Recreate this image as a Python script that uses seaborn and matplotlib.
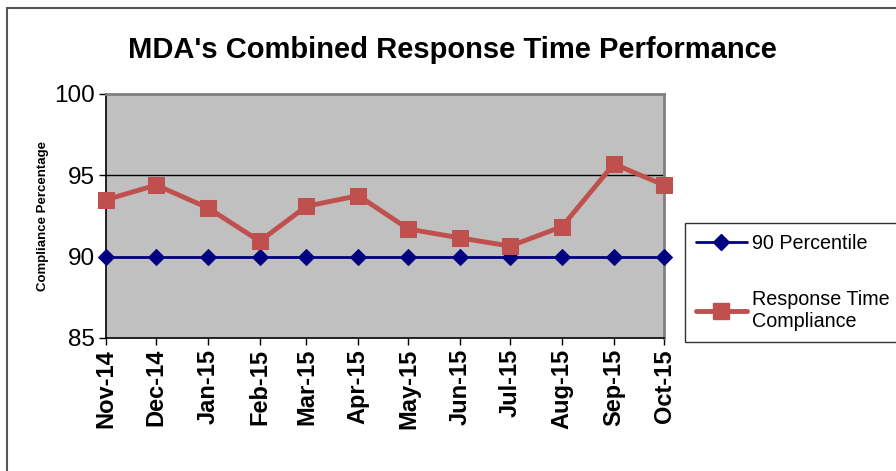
import matplotlib
matplotlib.use("Agg")
import matplotlib.pyplot as plt
import matplotlib.dates as mdates
from matplotlib.lines import Line2D
import seaborn as sns
import pandas as pd

months = ["Nov-14", "Dec-14", "Jan-15", "Feb-15", "Mar-15", "Apr-15",
          "May-15", "Jun-15", "Jul-15", "Aug-15", "Sep-15", "Oct-15"]
percentile = [90, 90, 90, 90, 90, 90, 90, 90, 90, 90, 90, 90]
compliance = [93.5, 94.4, 93.0, 90.95, 93.1, 93.75, 91.7, 91.15, 90.65, 91.85, 95.7, 94.4]

dates = pd.to_datetime(months, format="%b-%y")
df = pd.DataFrame({"date": dates, "percentile": percentile, "compliance": compliance})

sns.set_theme(style="white")
plt.rcParams["font.family"] = ["Liberation Sans", "DejaVu Sans"]
plt.rcParams["text.color"] = "black"
plt.rcParams["axes.labelcolor"] = "black"
plt.rcParams["xtick.color"] = "black"
plt.rcParams["ytick.color"] = "black"

fig = plt.figure(figsize=(8.96, 4.71), dpi=100)
ax = fig.add_axes([106 / 896, 1 - 338 / 471, (664 - 106) / 896, (338 - 94) / 471])
ax.set_facecolor("#C0C0C0")

# gridline at 95
ax.axhline(95, color="black", lw=1, zorder=1)

sns.lineplot(data=df, x="date", y="percentile", ax=ax, color="#000080", lw=2,
             marker="D", markersize=8, markeredgecolor="#000080", zorder=3, clip_on=False)
sns.lineplot(data=df, x="date", y="compliance", ax=ax, color="#C0504D", lw=3.5,
             marker="s", markersize=11, markeredgecolor="#C0504D", zorder=4, clip_on=False)

ax.set_xlim(dates[0], dates[-1])
ax.set_ylim(85, 100)
ax.set_yticks([85, 90, 95, 100])
ax.set_yticklabels(["85", "90", "95", "100"], fontsize=17.5)
ax.set_xticks(dates)
ax.set_xticklabels(months, rotation=90, fontsize=17, fontweight="bold")
ax.tick_params(axis="both", which="both", length=5, width=1, color="black",
               labelcolor="black", direction="out", left=True, bottom=True, pad=3)

for side in ["left", "bottom"]:
    ax.spines[side].set_color("black")
    ax.spines[side].set_linewidth(1.2)
for side in ["top", "right"]:
    ax.spines[side].set_color("#808080")
    ax.spines[side].set_linewidth(2)

ax.set_xlabel("")
ax.set_ylabel("Compliance Percentage", fontsize=9.5, fontweight="bold",
              color="black", labelpad=4)

fig.text(452 / 896, 1 - 50 / 471, "MDA's Combined Response Time Performance",
         ha="center", va="center", fontsize=21, fontweight="bold", color="black")

handles = [
    Line2D([], [], color="#000080", lw=2, marker="D", markersize=8),
    Line2D([], [], color="#C0504D", lw=3.5, marker="s", markersize=11),
]
leg = fig.legend(handles, ["90 Percentile", "Response Time\nCompliance"],
                 loc="upper left", bbox_to_anchor=(685 / 896, 1 - 223 / 471),
                 borderaxespad=0, fontsize=14.2, frameon=True, fancybox=False,
                 handlelength=2.6, labelspacing=1.9, borderpad=0.55,
                 handletextpad=0.25)
leg.get_frame().set_edgecolor("black")
leg.get_frame().set_linewidth(1)
for t in leg.get_texts():
    t.set_color("black")

# outer chart border
fig.add_artist(Line2D([7 / 896, 7 / 896], [0, 1 - 8 / 471], transform=fig.transFigure,
                      color="#555555", lw=1.5))
fig.add_artist(Line2D([7 / 896, 1], [1 - 8 / 471, 1 - 8 / 471], transform=fig.transFigure,
                      color="#555555", lw=1.5))

fig.savefig("out.png", dpi=100)
